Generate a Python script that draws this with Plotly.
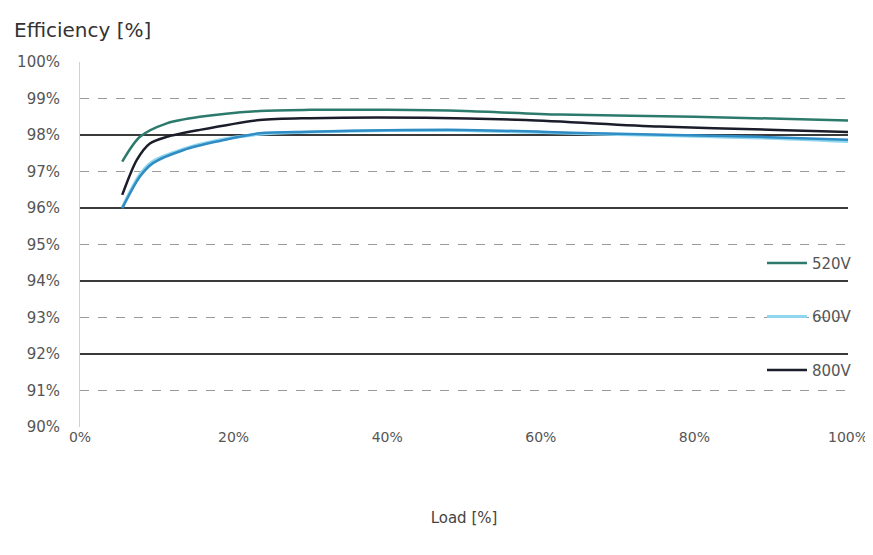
import plotly.graph_objects as go

# Load [%]
load_top = [5.5, 7.8, 11.3, 15.6, 23.4, 30, 40, 50, 62.5, 80, 100]
eff_520 = [97.27, 97.95, 98.32, 98.50, 98.66, 98.69, 98.69, 98.66, 98.56, 98.50, 98.40]

load_800 = [5.5, 7.4, 9.1, 11.3, 15.6, 23.4, 30, 45, 58, 75.5, 90.7, 100]
eff_800 = [96.36, 97.32, 97.77, 97.95, 98.14, 98.41, 98.46, 98.47, 98.41, 98.23, 98.14, 98.08]

load_blue = [5.5, 7.8, 9.5, 13.5, 17.8, 23.4, 30, 40, 50, 67, 88.5, 100]
eff_blue = [95.99, 96.86, 97.23, 97.59, 97.82, 98.05, 98.09, 98.13, 98.14, 98.05, 97.95, 97.87]

load_600 = [5.5, 7.8, 9.5, 13.5, 17.8, 23.4, 30, 40, 50, 67, 88.5, 100]
eff_600 = [96.02, 96.92, 97.28, 97.62, 97.85, 98.02, 98.08, 98.12, 98.12, 98.03, 97.92, 97.82]

y_ticks = [90, 91, 92, 93, 94, 95, 96, 97, 98, 99, 100]
y_labels = [f"{v}%" for v in y_ticks]
x_ticks = [0, 20, 40, 60, 80, 100]
x_labels = [f"{v}%" for v in x_ticks]

font = "'DejaVu Sans', sans-serif"

fig = go.Figure()
fig.add_trace(go.Scatter(x=load_600, y=eff_600, mode="lines", name="600V",
                         line=dict(color="#8fd6ee", width=3, shape="spline", smoothing=0.8),
                         legendgroup="b", legendrank=2))
fig.add_trace(go.Scatter(x=load_blue, y=eff_blue, mode="lines", name="blue",
                         line=dict(color="#2f8cc4", width=2.5, shape="spline", smoothing=0.8),
                         showlegend=False, yaxis="y2"))
fig.add_trace(go.Scatter(x=load_800, y=eff_800, mode="lines", name="800V",
                         line=dict(color="#1b1d2b", width=2.5, shape="spline", smoothing=0.8),
                         legendgroup="c", legendrank=3))
fig.add_trace(go.Scatter(x=load_top, y=eff_520, mode="lines", name="520V",
                         line=dict(color="#2c7a6c", width=2.5, shape="spline", smoothing=0.8),
                         legendgroup="a", legendrank=1))

fig.update_layout(
    width=873, height=555,
    margin=dict(l=72, r=33, t=54, b=136),
    paper_bgcolor="white", plot_bgcolor="white",
    font=dict(family=font, size=14, color="#555"),
    showlegend=True,
    legend=dict(x=0.888, xanchor="left", y=0.494, yanchor="top",
                bgcolor="rgba(0,0,0,0)", font=dict(size=15, color="#555"),
                traceorder="grouped", tracegroupgap=31, itemwidth=40),
    xaxis=dict(range=[0, 100], tickvals=x_ticks, ticktext=x_labels, showgrid=False,
               zeroline=False, showline=False, ticks="", automargin=False,
               tickfont=dict(size=14, color="#555"),
               title=dict(text="Load [%]", font=dict(size=15, color="#444"), standoff=68)),
    yaxis=dict(range=[90, 100], tickvals=y_ticks, ticktext=y_labels, showgrid=True,
               gridcolor="#9a9a9a", griddash="dash", gridwidth=1.2, zeroline=False,
               showline=True, linecolor="#d0d0d0", linewidth=1, ticks="", automargin=False,
               ticklabelstandoff=16, tickfont=dict(size=15, color="#555")),
    yaxis2=dict(range=[90, 100], overlaying="y", tickvals=[90, 92, 94, 96, 98, 100],
                showticklabels=False, showgrid=True, gridcolor="#3a3a3a", gridwidth=1.5,
                zeroline=False, showline=False, ticks="", automargin=False),
    annotations=[dict(text="Efficiency [%]", xref="paper", yref="paper", x=-0.0885, y=1.088,
                      xanchor="left", yanchor="middle", showarrow=False,
                      font=dict(size=20, color="#333", family=font))],
)

fig.write_html("out.html")
